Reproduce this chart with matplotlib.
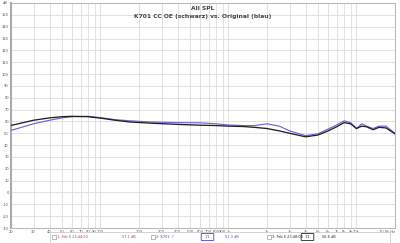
import matplotlib
matplotlib.use("Agg")
import matplotlib.pyplot as plt
from matplotlib.patches import Rectangle, FancyBboxPatch

freqs = [20, 25, 30, 40, 50, 60, 80, 100, 130, 170, 250, 400, 600, 800, 1000,
         1300, 1600, 2000, 2500, 3000, 4000, 5000, 6000, 7000, 8000, 9000,
         10000, 11000, 12000, 13500, 15000, 17000, 20000]
black_db = [56.6, 59, 61, 63, 64, 64.3, 64, 62.8, 61, 59.5, 58.5, 57.5, 56.8,
            56.5, 56, 55.7, 55, 54, 52, 50, 47, 48.5, 52, 55.5, 59, 58, 54,
            56, 55.5, 53, 55, 54.5, 49.5]
blue_db = [52.4, 55.5, 58, 61, 63, 64, 64.3, 63.2, 61.5, 60.5, 59.5, 59, 58.8,
           58, 57, 56.5, 56.5, 58, 56, 52, 48, 49.5, 53.5, 57, 60.5, 59, 54,
           58, 56, 54, 56, 56, 50]

xticks = [20, 30, 40, 50, 60, 70, 80, 90, 100, 200, 300, 400, 500, 600, 700,
          800, 900, 1000, 2000, 3000, 4000, 5000, 6000, 7000, 8000, 9000,
          10000, 20000]
xticklabels = ["20", "30", "40", "50", "60", "70", "80", "90", "100", "200",
               "300", "400", "500", "600", "700", "800", "900", "1k", "2k",
               "3k", "4k", "5k", "6k", "7k", "8k", "9k", "10k", "20.0k Hz"]
yticks = list(range(-30, 160, 10))
title = "All SPL"
subtitle = "K701 CC OE (schwarz) vs. Original (blau)"

legend_names = ["1: Feb 5 23:44:53", "2: K701  ?", "3: Feb 5 23:48:00"]
legend_levels = ["57.1 dB", "51.3 dB", "56.6 dB"]

fig = plt.figure(figsize=(4.0, 2.43), dpi=100)
fig.patch.set_facecolor("white")
ax = fig.add_axes([11/400, 1-228/243, 384/400, 225/243])
ax.set_xscale("log")
ax.set_xlim(20, 20000)
ax.set_ylim(-30, 160)
ax.set_xticks(xticks)
ax.set_xticklabels(xticklabels)
ax.xaxis.set_minor_locator(matplotlib.ticker.NullLocator())
ax.set_yticks(yticks)
ax.set_yticklabels([str(v) for v in yticks])
ax.tick_params(axis="both", length=0, labelsize=2.6, colors="#555555", pad=1.5)
ax.get_xticklabels()[-1].set_horizontalalignment("right")
ax.grid(True, which="major", color="#dddddd", linewidth=0.6)
for s in ax.spines.values():
    s.set_color("#bbbbbb")
    s.set_linewidth(0.8)
ax.spines["left"].set_color("#aaaaaa")
ax.spines["left"].set_linewidth(1.5)

ax.plot(freqs, blue_db, color="#6f63d6", linewidth=0.85, zorder=3)
ax.plot(freqs, black_db, color="#222222", linewidth=0.95, zorder=4)

ax.text(0.5, 0.985, title, transform=ax.transAxes, ha="center", va="top",
        fontsize=4.3, fontweight="bold", color="#444444")
ax.text(0.5, 0.95, subtitle, transform=ax.transAxes, ha="center", va="top",
        fontsize=4.3, fontweight="bold", color="#444444")
fig.text(5/400, 1-3/243, "dB", fontsize=2.6, color="#555555", ha="center", va="center")

def fx(px):
    return px/400
def fy(py):
    return 1-py/243

fig.patches.append(Rectangle((fx(50), fy(243)), fx(340), 11/243, transform=fig.transFigure,
                             facecolor="white", edgecolor="#cccccc", linewidth=0.6))
colors = ["#cc3333", "#4444cc", "#222222"]
name_x = [57, 156, 272]
box_x = [52, 151, 267]
level_x = [122, 225, 322]
for i in range(3):
    fig.patches.append(Rectangle((fx(box_x[i]), fy(239)), fx(4), 4/243,
                                 transform=fig.transFigure, facecolor="white",
                                 edgecolor="#888888", linewidth=0.4))
    fig.text(fx(name_x[i]), fy(237), legend_names[i], fontsize=2.5,
             color=colors[i], va="center", ha="left")
    fig.text(fx(level_x[i]), fy(237), legend_levels[i], fontsize=2.5,
             color=colors[i], va="center", ha="left")
for i, bx in enumerate([202, 302]):
    c = "#4444cc" if i == 0 else "#222222"
    fig.patches.append(FancyBboxPatch((fx(bx), fy(240)), fx(11), 6/243,
                                      boxstyle="round,pad=0.002", transform=fig.transFigure,
                                      facecolor="white", edgecolor=c, linewidth=0.6))
    fig.text(fx(bx+5.5), fy(237), "1/1", fontsize=2.5, color=c, ha="center", va="center")

fig.savefig("out.png", dpi=100)
